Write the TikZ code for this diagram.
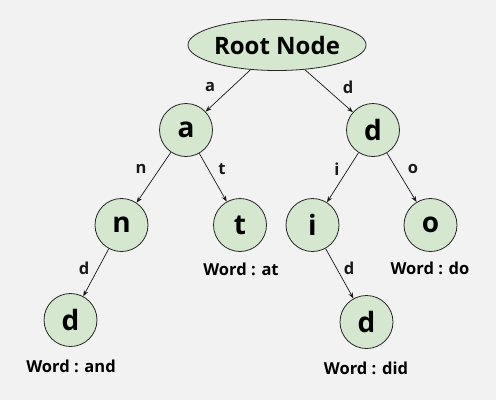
\documentclass[tikz,border=0pt]{standalone}
\usepackage{fontspec}
\setmainfont{Open Sans}
\usetikzlibrary{arrows.meta,shapes.geometric}
\definecolor{bgc}{HTML}{F2F2F2}
\definecolor{nodefill}{HTML}{D5E8CF}
\tikzset{
  trienode/.style={circle, draw=black!85, line width=0.8pt, fill=nodefill, minimum size=53pt, inner sep=0pt, font=\fontsize{28}{30}\selectfont\bfseries},
  rootnode/.style={ellipse, draw=black!85, line width=0.8pt, fill=nodefill, minimum width=157pt, minimum height=51pt, inner sep=0pt, font=\fontsize{24}{26}\selectfont\bfseries},
  edgelab/.style={font=\fontsize{16.5}{19}\selectfont\bfseries, inner sep=0pt, text=black!90},
  wordlab/.style={font=\fontsize{16.5}{18}\selectfont\bfseries, inner sep=0pt},
  link/.style={-{Stealth[length=6pt,width=4.5pt]}, line width=0.7pt, black!90}
}
\begin{document}
\begin{tikzpicture}[x=1pt,y=-1pt]
\fill[bgc] (0,0) rectangle (496,400);
\useasboundingbox (0,0) rectangle (496,400);
\node[rootnode] (root) at (277,45) {Root Node};
\node[trienode] (a) at (186,130) {a};
\node[trienode] (d) at (373,130) {d};
\node[trienode] (n) at (121.5,225) {n};
\node[trienode] (t) at (240,225) {t};
\node[trienode] (i) at (312.5,225) {i};
\node[trienode] (o) at (430.5,225) {o};
\node[trienode] (and) at (70.5,320) {d};
\node[trienode] (did) at (366.5,322) {d};
\draw[link] (root) -- (a);
\draw[link] (root) -- (d);
\draw[link] (a) -- (n);
\draw[link] (a) -- (t);
\draw[link] (d) -- (i);
\draw[link] (d) -- (o);
\draw[link] (n) -- (and);
\draw[link] (i) -- (did);
\node[edgelab] (la) at (210,87) {a};
\node[edgelab] (ld) at (348,87) {d};
\node[edgelab] (ln) at (141,169) {n};
\node[edgelab] (lt) at (222,169) {t};
\node[edgelab] (li) at (337,169) {i};
\node[edgelab] (lo) at (413,169) {o};
\node[edgelab] (lnd) at (84,268) {d};
\node[edgelab] (lid) at (349,268) {d};
\node[wordlab] (wat) at (241,269) {Word : at};
\node[wordlab] (wdo) at (430,268) {Word : do};
\node[wordlab] (wand) at (71,366) {Word : and};
\node[wordlab] (wdid) at (366,368) {Word : did};
\end{tikzpicture}
\end{document}
